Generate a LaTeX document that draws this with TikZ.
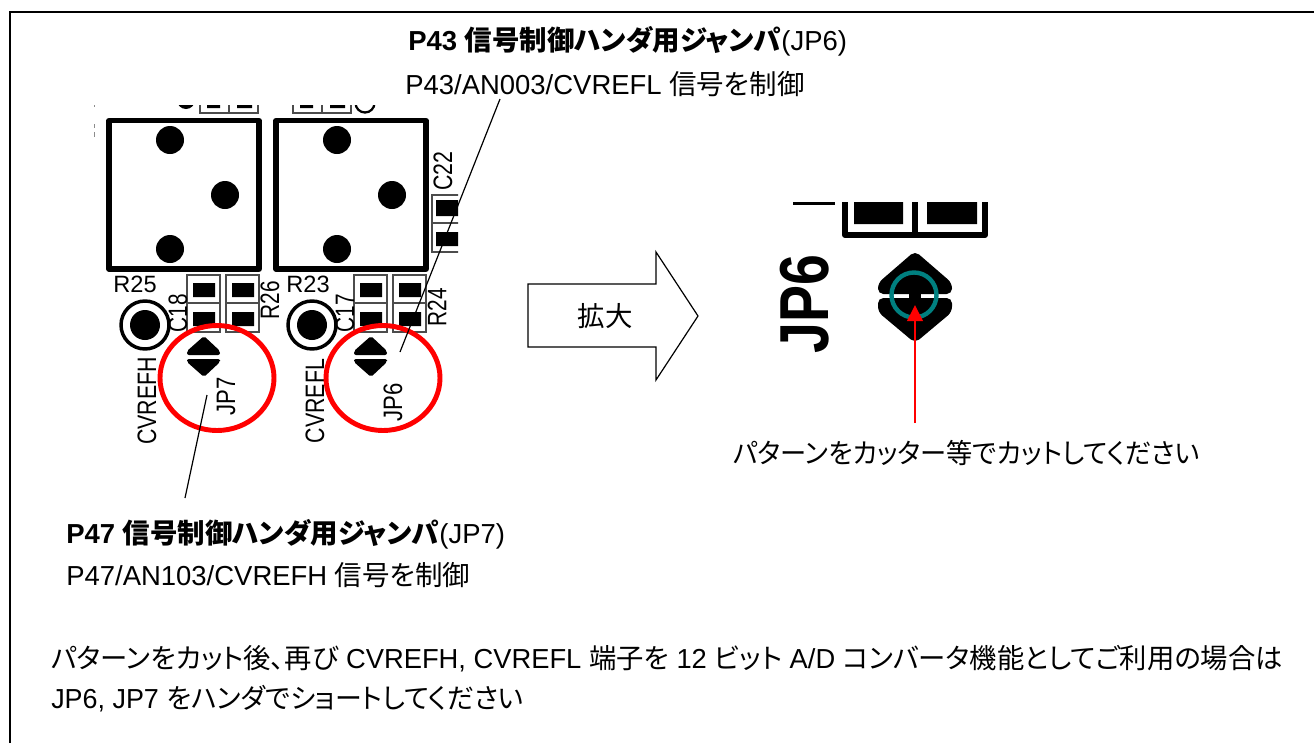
\documentclass[tikz,border=0pt]{standalone}
\usepackage{fontspec}
\setmainfont{Liberation Sans}
\newfontfamily\cjk[RawFeature={+palt}]{Noto Sans CJK JP}
\usetikzlibrary{arrows.meta}

\tikzset{
    x=0.75pt, y=-0.75pt,
    textline/.style={inner sep=0pt, anchor=base west, font=\fontsize{20.6}{20.6}\selectfont},
    silk/.style={inner sep=0pt, font=\fontsize{17.7}{17.7}\selectfont},
    silkup/.style={inner sep=0pt, font=\fontsize{20}{20}\selectfont, rotate=90, xscale=#1},
    leader/.style={draw=black, line width=0.9pt},
    padbox/.style={draw=black!70, line width=1.5pt, fill=white},
    redring/.style={draw=red, line width=3.7pt},
}
% one pair of pads with its outline, upper left corner at #1
\newcommand{\padpair}[1]{
    \draw[padbox, shift={#1}] (0,0) rectangle (33,57) (0,28) -- (33,28);
    \fill[shift={#1}] (6,8) rectangle (28,22) (6,37) rectangle (28,51);
}
% the cut off pads above a switch, left edge at #1
\newcommand{\toppads}[1]{
    \begin{scope}[shift={(#1,0)}]
        \draw[padbox] (0,97) rectangle (58,113) (29,97) -- (29,113);
        \fill (7,97) rectangle (20,108) (37,97) rectangle (52,108);
    \end{scope}
}
% one switch body with its three dots, shifted by #1
\newcommand{\switchbody}[1]{
    \begin{scope}[shift={#1}]
        \draw[line width=3.8pt, line join=round] (109,120.5) rectangle (259,269);
        \fill (170,140) circle (14) (225,195) circle (14) (170,249) circle (14);
        \draw[line width=2.6pt] (145,325) circle (24);
        \fill (145,325) circle (15);
        \padpair{(187,275)}
        \padpair{(226,275)}
        \fill[rounded corners=1.5pt] (204,336) -- (220,351) -- (220,355) -- (187,355) -- (187,351) -- cycle;
        \fill[rounded corners=1.5pt] (204,377) -- (220,362) -- (220,359) -- (187,359) -- (187,362) -- cycle;
    \end{scope}
}

\begin{document}
\begin{tikzpicture}
    \useasboundingbox (0,0) rectangle (1314,743);
    \draw[line width=1.3pt] (10,743) -- (10,12) -- (1314,12);

    \switchbody{(0,0)}
    \switchbody{(167,0)}
    \toppads{200}
    \toppads{293}
    \fill (186,100) circle (9);
    \draw[line width=1.7pt] (365,103) circle (9.5);
    \fill[white] (170,85) rectangle (385,105);
    \draw[black!45, line width=0.7pt] (94,105) -- (94,107) (94,124) -- (94,128) (94,132) -- (94,137);

    % C22 part
    \begin{scope}
        \clip (425,190) rectangle (458,258);
        \draw[padbox] (432,195) rectangle (470,252) (432,223) -- (470,223);
        \fill (436,200) rectangle (470,216) (436,232) rectangle (470,246);
    \end{scope}

    \node[silk] (r25) at (135,284) {R25};
    \node[silk] (r23) at (308,284) {R23};
    \node[silkup=0.78] (c18) at (178,313) {C18};
    \node[silkup=0.78] (c17) at (345,313) {C17};
    \node[silkup=0.78] (r26) at (270,300) {R26};
    \node[silkup=0.78] (r24) at (437,307) {R24};
    \node[silkup=0.8] (c22) at (443,171) {C22};
    \node[silkup=0.8] (cvrefh) at (147,401) {CVREFH};
    \node[silkup=0.8] (cvrefl) at (315,401) {CVREFL};
    \node[silkup=0.83] (jp7) at (226,396) {JP7};
    \node[silkup=0.83] (jp6) at (393,402) {JP6};

    \draw[redring] (217,378) ellipse (57 and 52.5);
    \draw[redring] (383,378) ellipse (57 and 52.5);

    % leaders
    \coordinate (jp6end) at (400,352);
    \coordinate (jp6top) at (500,99);
    \coordinate (jp7end) at (207,395);
    \coordinate (jp7low) at (185,498);
    \draw[leader] (jp6top) -- (jp6end);
    \draw[leader] (jp7end) -- (jp7low);

    \node[textline] (title6) at (408,50) {\textbf{P43 {\cjk 信号制御ハンダ用ジャンパ}}(JP6)};
    \node[textline] (sub6) at (405,94) {P43/AN003/CVREFL {\cjk 信号を制御}};
    \node[textline] (title7) at (66,543) {\textbf{P47 {\cjk 信号制御ハンダ用ジャンパ}}(JP7)};
    \node[textline] (sub7) at (66,585) {P47/AN103/CVREFH {\cjk 信号を制御}};

    % the arrow
    \draw[line width=0.9pt, miter limit=10] (528,284) -- (656,284) -- (656,252) -- (698,316) -- (656,380) -- (656,347) -- (528,347) -- cycle;
    \node[textline, anchor=center] (zoomlabel) at (605,316) {\cjk 拡大};

    % enlarged view
    \begin{scope}
        \draw[line width=4.5pt, line join=round] (845,202) -- (845,235) -- (985,235) -- (985,202) (915,202) -- (915,235);
        \fill (854,202) rectangle (903,224) (927,202) rectangle (977,224);
        \fill (793,202) rectangle (835,205);
    \end{scope}
    \node[inner sep=0pt, rotate=90, xscale=0.8, font=\bfseries\fontsize{52}{52}\selectfont] (jp6big) at (805,304) {JP6};
    \fill[rounded corners=4pt] (915,251) -- (952,283) -- (952,294) -- (878,294) -- (878,283) -- cycle;
    \fill[rounded corners=4pt] (915,343) -- (952,312) -- (952,298) -- (878,298) -- (878,312) -- cycle;
    \fill (909,292) rectangle (921,300);
    \draw[draw={rgb,255:red,0;green,128;blue,128}, line width=3.3pt] (914,295) circle (22.5);
    \coordinate (cutstart) at (915,423);
    \coordinate (cuttip) at (915,305);
    \draw[draw=red, line width=2pt, -{Triangle[length=12pt,width=11.5pt]}] (cutstart) -- (cuttip);
    \node[textline, xscale=0.955] (cutlabel) at (733,463) {\cjk パターンをカッター等でカットしてください};

    \node[textline, xscale=0.995] (note1) at (51,668) {{\cjk パターンをカット後、再び} CVREFH, CVREFL {\cjk 端子を} 12 {\cjk ビット} A/D {\cjk コンバータ機能としてご利用の場合は}};
    \node[textline, xscale=0.98] (note2) at (51,708) {JP6, JP7 {\cjk をハンダでショートしてください}};
\end{tikzpicture}
\end{document}
